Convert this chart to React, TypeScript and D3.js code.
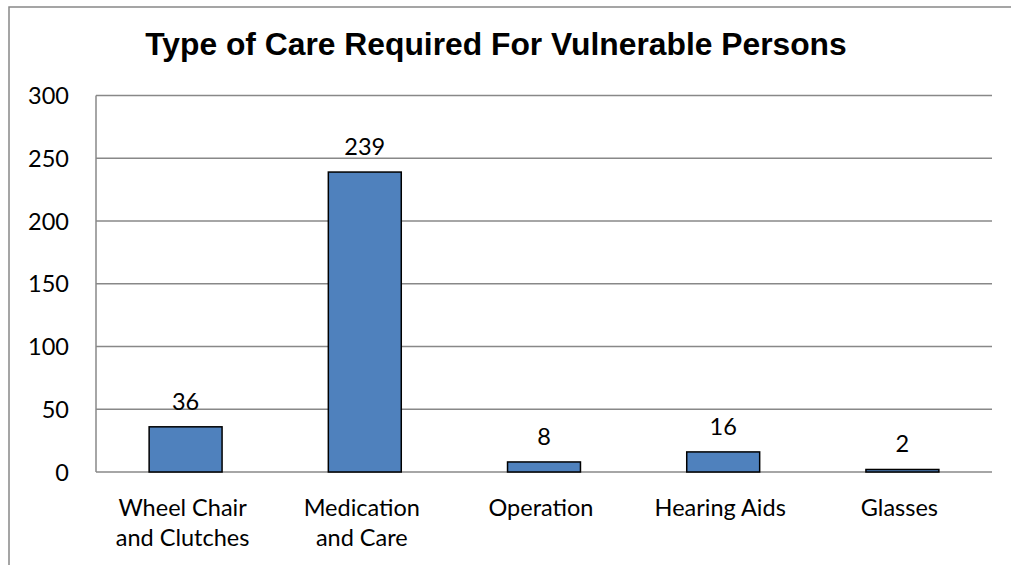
import * as d3 from 'd3';

const categories = [
  ['Wheel Chair', 'and Clutches'],
  ['Medication', 'and Care'],
  ['Operation'],
  ['Hearing Aids'],
  ['Glasses'],
];
const values = [36, 239, 8, 16, 2];
const yTicks = [0, 50, 100, 150, 200, 250, 300];
const title = 'Type of Care Required For Vulnerable Persons';

export default function App() {
  const width = 1011;
  const height = 565;
  const left = 96;
  const right = 992;
  const top = 95.5;
  const bottom = 472;

  const keys = categories.map((c) => c.join(' '));

  const x = d3.scaleBand<string>()
    .domain(keys)
    .range([left, right])
    .paddingInner(0.593)
    .paddingOuter(0.2965);

  const y = d3.scaleLinear()
    .domain([0, 300])
    .range([bottom, top]);

  const labelFont = 'Lato, "Open Sans", sans-serif';
  const fs = 23.5;

  return (
    <svg
      width={width}
      height={height}
      style={{ position: 'absolute', left: 0, top: 0, background: '#fff' }}
    >
      <rect x={9} y={7} width={1010} height={570} fill="#fff" stroke="#888" strokeWidth={1.5} />

      <text
        x={496}
        y={55}
        textAnchor="middle"
        fontFamily='"Liberation Sans", Arial, sans-serif'
        fontWeight="bold"
        fontSize={31.8}
        fill="#000"
      >
        {title}
      </text>

      {/* gridlines */}
      {yTicks.map((t) => (
        <line
          key={'g' + t}
          x1={left}
          x2={right}
          y1={y(t)}
          y2={y(t)}
          stroke="#888"
          strokeWidth={1.5}
        />
      ))}
      <line x1={left} x2={left} y1={top} y2={bottom} stroke="#888" strokeWidth={1.5} />

      {/* y tick labels */}
      {yTicks.map((t) => (
        <text
          key={'t' + t}
          x={69}
          y={y(t) + 8.5}
          textAnchor="end"
          fontFamily={labelFont}
          fontSize={fs}
          fill="#000"
        >
          {t}
        </text>
      ))}

      {/* bars */}
      {values.map((v, i) => (
        <g key={keys[i]}>
          <rect
            x={x(keys[i])}
            y={y(v)}
            width={x.bandwidth()}
            height={bottom - y(v)}
            fill="#4F81BD"
            stroke="#000"
            strokeWidth={1.5}
          />
          <text
            x={(x(keys[i]) ?? 0) + x.bandwidth() / 2}
            y={y(v) - 17}
            textAnchor="middle"
            fontFamily={labelFont}
            fontSize={fs}
            fill="#000"
          >
            {v}
          </text>
        </g>
      ))}

      {/* category labels */}
      {categories.map((lines, i) => (
        <text
          key={'c' + i}
          x={(x(keys[i]) ?? 0) + x.bandwidth() / 2 - 3}
          y={516}
          textAnchor="middle"
          fontFamily={labelFont}
          fontSize={fs}
          fill="#000"
        >
          {lines.map((l, j) => (
            <tspan key={j} x={(x(keys[i]) ?? 0) + x.bandwidth() / 2 - 3} dy={j === 0 ? 0 : 30}>
              {l}
            </tspan>
          ))}
        </text>
      ))}
    </svg>
  );
}
